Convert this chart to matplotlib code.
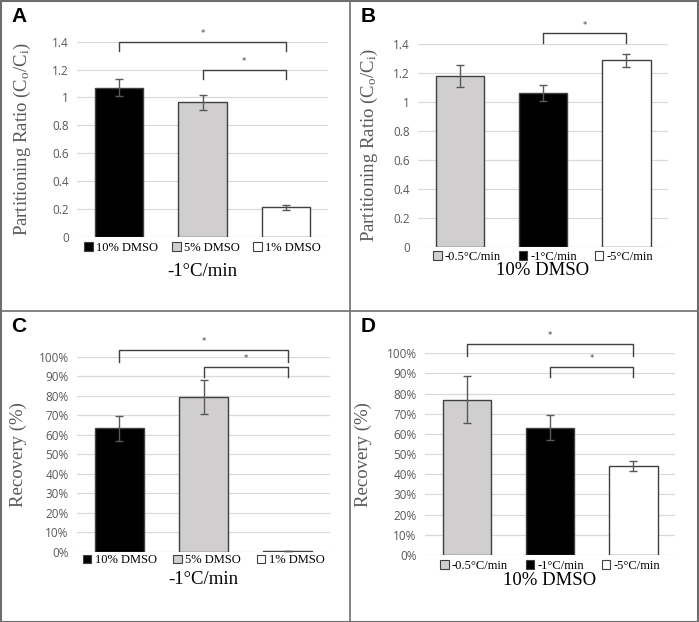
import matplotlib
matplotlib.use("Agg")
import matplotlib.pyplot as plt
from matplotlib.patches import Patch
from matplotlib.ticker import PercentFormatter, MultipleLocator

plt.rcParams['mathtext.fontset'] = 'custom'
plt.rcParams['mathtext.rm'] = 'Liberation Serif'
plt.rcParams['mathtext.it'] = 'Liberation Serif:italic'

# ---- data ----
dmso_labels = ['10% DMSO', '5% DMSO', '1% DMSO']
rate_labels = ['-0.5°C/min', '-1°C/min', '-5°C/min']

ratio_dmso = [1.07, 0.965, 0.21]
ratio_dmso_err = [0.06, 0.055, 0.02]
ratio_rate = [1.18, 1.065, 1.29]
ratio_rate_err = [0.075, 0.055, 0.045]

recov_dmso = [0.632, 0.795, 0.004]
recov_dmso_err = [0.065, 0.087, 0.0]
recov_rate = [0.77, 0.632, 0.44]
recov_rate_err = [0.115, 0.06, 0.025]

# bracket annotations: (from bar, to bar, top, leg bottom)
sig_a = [(0, 2, 1.40, 1.33), (1, 2, 1.20, 1.13)]
sig_b = [(1, 2, 1.476, 1.407)]
sig_c = [(0, 2, 1.034, 0.974), (1, 2, 0.949, 0.897)]
sig_d = [(0, 2, 1.045, 0.988), (1, 2, 0.934, 0.884)]

BLACK = '#000000'
GREY = '#d0cece'
WHITE = '#ffffff'
EDGE = '#404040'
TXT = '#595959'
SERIF = 'Liberation Serif'
SANS = 'Open Sans'

W, H = 699, 622
fig = plt.figure(figsize=(W / 100, H / 100), dpi=100)


def add_ax(x0, x1, ytop, ybot):
    return fig.add_axes([x0 / W, 1 - ybot / H, (x1 - x0) / W, (ybot - ytop) / H])


def panel(ax, vals, errs, colors, labels, ylabel, xlabel, sigs, pct,
          ylab_x, leg_y, xl_y, letter, letter_xy, colsp):
    x = range(len(vals))
    ax.bar(x, vals, width=0.58, color=colors, edgecolor=EDGE, linewidth=1.0, zorder=3)
    ax.errorbar(x, vals, yerr=errs, fmt='none', ecolor=TXT, elinewidth=1.0,
                capsize=3, capthick=1.0, zorder=4)
    ax.set_xlim(-0.5, len(vals) - 0.5)
    if pct:
        ax.set_ylim(0, 1.0)
        ax.yaxis.set_major_locator(MultipleLocator(0.1))
        ax.yaxis.set_major_formatter(PercentFormatter(1.0, decimals=0))
    else:
        ax.set_ylim(0, 1.4)
        ax.set_yticks([0, 0.2, 0.4, 0.6, 0.8, 1, 1.2, 1.4])
        ax.set_yticklabels(['0', '0.2', '0.4', '0.6', '0.8', '1', '1.2', '1.4'])
    ax.set_xticks([])
    for s in ['top', 'right', 'left', 'bottom']:
        ax.spines[s].set_visible(False)
    ax.yaxis.grid(True, color='#d9d9d9', linewidth=0.9, zorder=0)
    ax.set_axisbelow(True)
    ax.tick_params(axis='y', length=0, pad=6, labelcolor=TXT, labelsize=8.5)
    for t in ax.get_yticklabels():
        t.set_fontfamily(SANS)
    ax.set_ylabel(ylabel, fontfamily=SERIF, fontsize=13.5, color=TXT)
    ax.yaxis.set_label_coords(ylab_x, 0.5)

    handles = [Patch(facecolor=c, edgecolor=EDGE, linewidth=0.8) for c in colors]
    ax.legend(handles, labels, ncol=3, loc='center', bbox_to_anchor=(0.5, leg_y),
              frameon=False, handlelength=0.7, handleheight=0.7, handletextpad=0.25,
              columnspacing=colsp, prop={'family': SERIF, 'size': 9})
    ax.text(0.5, xl_y, xlabel, transform=ax.transAxes, ha='center', va='center',
            fontfamily=SERIF, fontsize=13.5)

    # significance brackets
    for i, j, top, leg in sigs:
        ax.plot([i, i, j, j], [leg, top, top, leg], color='#404040', linewidth=1.0,
                clip_on=False, zorder=5)
        ax.text((i + j) / 2, top + (top - leg) * 0.35, '*', ha='center', va='bottom',
                fontsize=6, color='#404040', clip_on=False)

    fig.text(letter_xy[0] / W, 1 - letter_xy[1] / H, letter, fontfamily='Liberation Sans',
             fontweight='bold', fontsize=15, ha='left', va='center')


axA = add_ax(77, 328, 41.7, 236.7)
panel(axA, ratio_dmso, ratio_dmso_err, [BLACK, GREY, WHITE], dmso_labels,
      r'Partitioning Ratio (C$_\mathrm{o}$/C$_\mathrm{i}$)', '-1°C/min', sig_a, False,
      -44 / 251, -0.058, -0.18, 'A', (11, 17), 1.1)

axB = add_ax(418, 668, 44.3, 246.7)
panel(axB, ratio_rate, ratio_rate_err, [GREY, BLACK, WHITE], rate_labels,
      r'Partitioning Ratio (C$_\mathrm{o}$/C$_\mathrm{i}$)', '10% DMSO', sig_b, False,
      -38 / 250, -0.05, -0.12, 'B', (361, 17), 1.4)

axC = add_ax(77, 330, 356.7, 551.7)
panel(axC, recov_dmso, recov_dmso_err, [BLACK, GREY, WHITE], dmso_labels,
      'Recovery (%)', '-1°C/min', sig_c, True,
      -50 / 253, -0.045, -0.14, 'C', (11, 327), 1.3)

axD = add_ax(425, 675, 353.3, 555)
panel(axD, recov_rate, recov_rate_err, [GREY, BLACK, WHITE], rate_labels,
      'Recovery (%)', '10% DMSO', sig_d, True,
      -53 / 250, -0.055, -0.125, 'D', (361, 327), 1.4)

# panel frame lines
frame = dict(color='#6e6e6e', linewidth=1.2)
fig.add_artist(plt.Line2D([349.5 / W, 349.5 / W], [0, 1], **frame))
fig.add_artist(plt.Line2D([0, 1], [1 - 310.5 / H, 1 - 310.5 / H], **frame))
fig.add_artist(plt.Rectangle((0.5 / W, 0.5 / H), 1 - 1.5 / W, 1 - 1.5 / H, fill=False,
                             edgecolor='#6e6e6e', linewidth=1.5))

fig.savefig('out.png', dpi=100)
